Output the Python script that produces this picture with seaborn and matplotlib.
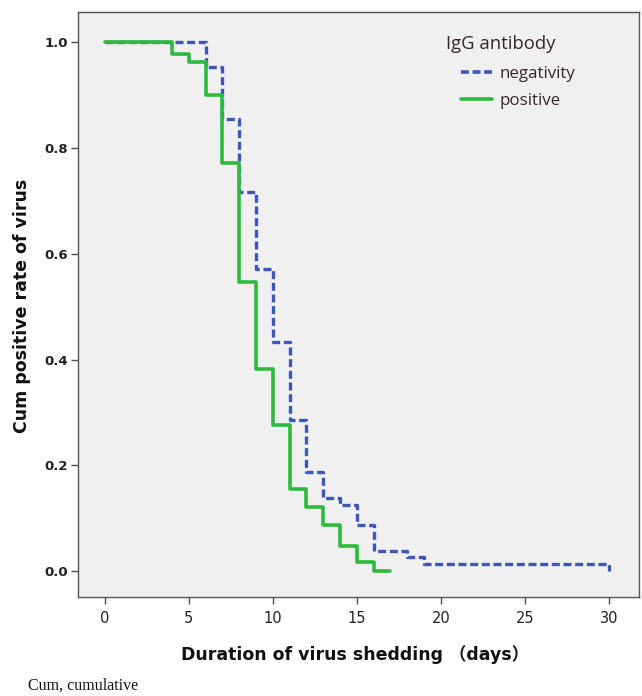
import matplotlib
matplotlib.use("Agg")
import matplotlib.pyplot as plt
import seaborn as sns
import pandas as pd
from matplotlib.lines import Line2D
from matplotlib.font_manager import FontProperties

# Data
neg_days = [0, 6, 7, 8, 9, 10, 11, 12, 13, 14, 15, 16, 18, 19, 30]
neg_rate = [1.0, 0.953, 0.854, 0.716, 0.571, 0.433, 0.286, 0.187, 0.138, 0.125, 0.087, 0.038, 0.026, 0.014, 0.0]
pos_days = [0, 4, 5, 6, 7, 8, 9, 10, 11, 12, 13, 14, 15, 16, 17]
pos_rate = [1.0, 0.977, 0.962, 0.90, 0.771, 0.546, 0.382, 0.277, 0.156, 0.122, 0.087, 0.047, 0.018, 0.0, 0.0]
x_ticks = [0, 5, 10, 15, 20, 25, 30]
y_ticks = [0.0, 0.2, 0.4, 0.6, 0.8, 1.0]
group_labels = ["negativity", "positive"]
legend_title = "IgG antibody"

sns.set_theme(style="white")
plt.rcParams['font.family'] = ['DejaVu Sans', 'Noto Sans CJK SC']

fig = plt.figure(figsize=(6.42, 6.96), dpi=100)
ax = fig.add_axes([78/642, 1-597/696, (639-78)/642, (597-12)/696])
ax.set_facecolor('#f0f0f0')

blue = '#3d56b8'
green = '#2dbb3e'

df_neg = pd.DataFrame({'day': neg_days, 'rate': neg_rate})
df_pos = pd.DataFrame({'day': pos_days, 'rate': pos_rate})

sns.lineplot(data=df_neg, x='day', y='rate', ax=ax, drawstyle='steps-post',
             estimator=None, color=blue, lw=2.4, zorder=2)
ax.lines[-1].set_dashes((2.4, 1.1))
sns.lineplot(data=df_pos, x='day', y='rate', ax=ax, drawstyle='steps-post',
             estimator=None, color=green, lw=2.6, zorder=3)

ax.set_xlim(-1.6, 31.8)
ax.set_ylim(-0.049, 1.057)
ax.set_xticks(x_ticks)
ax.set_yticks(y_ticks)
ax.set_xticklabels([str(t) for t in x_ticks])
ax.set_yticklabels([f"{t:.1f}" for t in y_ticks])

for lab in ax.get_xticklabels():
    lab.set_fontproperties(FontProperties(family='Liberation Sans Narrow', size=10.5))
for lab in ax.get_yticklabels():
    lab.set_fontproperties(FontProperties(family='Liberation Sans Narrow', weight='bold', size=9.5))

ax.tick_params(axis='both', direction='out', length=5, width=1, color='#505050',
               labelcolor='#222222', bottom=True, left=True)
ax.tick_params(axis='x', pad=5)
ax.tick_params(axis='y', pad=2)

for s in ax.spines.values():
    s.set_color('#555555')
    s.set_linewidth(1.0)
    s.set_visible(True)

ax.set_xlabel('')
ax.set_ylabel('')
fig.text(22/642, 1-306/696, 'Cum positive rate of virus', rotation=90, ha='center', va='center',
         fontsize=12.5, fontweight='bold', color='#111111')
fig.text(355/642, 1-655/696, 'Duration of virus shedding （days）', ha='center', va='center',
         fontsize=12.5, fontweight='bold', color='#111111',
         family=['DejaVu Sans', 'Noto Sans CJK SC'])
fig.text(28/642, 1-686/696, 'Cum, cumulative', ha='left', va='center',
         fontsize=11.5, family='Liberation Serif', color='#111111')

# legend title as separate text, entries indented like the reference
fig.text(446/642, 1-44/696, legend_title, ha='left', va='center',
         fontproperties=FontProperties(family='Open Sans', size=13.3), color='#3a2626')
handles = [Line2D([0], [0], color=blue, lw=2.6, dashes=(2.2, 1.0)),
           Line2D([0], [0], color=green, lw=2.6)]
leg = ax.legend(handles, group_labels, loc='upper left',
                bbox_to_anchor=(461/642, 1-66/696), bbox_transform=fig.transFigure,
                frameon=False, handlelength=1.85, borderpad=0, borderaxespad=0,
                handletextpad=0.45, labelspacing=0.62,
                prop=FontProperties(family='Open Sans', size=12.2))
for t in leg.get_texts():
    t.set_color('#3a2626')

fig.savefig('out.png', dpi=100, facecolor='white')
